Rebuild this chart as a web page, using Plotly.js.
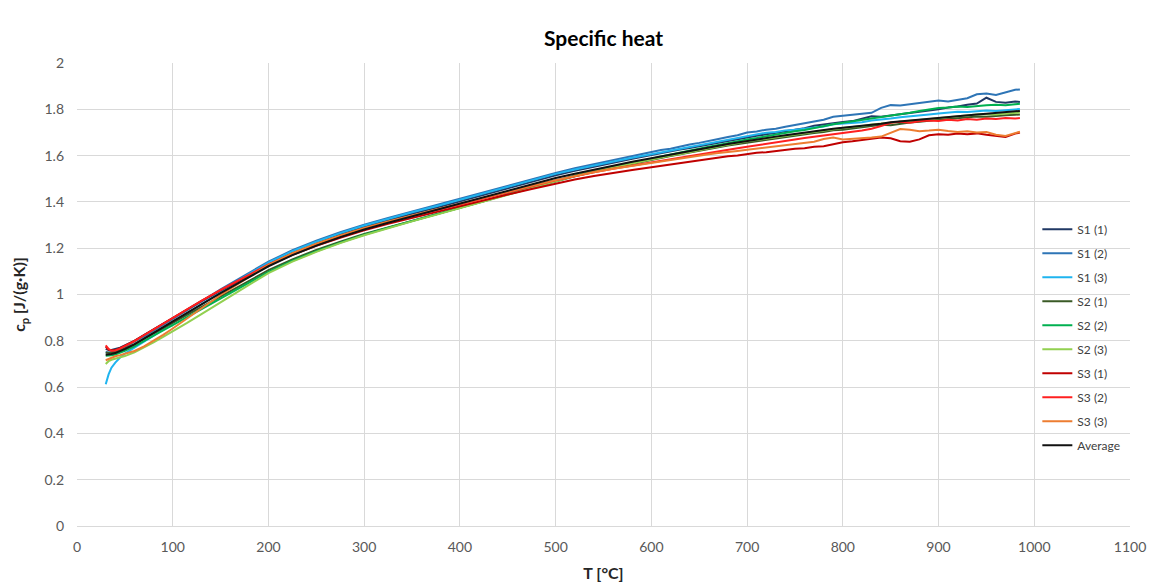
<!DOCTYPE html>
<html>
<head>
<meta charset="utf-8">
<script src="https://cdn.plot.ly/plotly-3.0.1.min.js"></script>
<style>html,body{margin:0;padding:0;background:#fff;}#chart{width:1149px;height:588px;}</style>
</head>
<body>
<div id="chart"></div>
<script>
const temps = [30,33,36,40,45,50,60,70,80,90,100,115,130,150,175,200,225,250,275,300,325,350,375,400,425,450,475,500,520,540,560,580,600,
  610,620,630,640,650,660,670,680,690,700,710,720,730,740,750,760,770,780,790,800,
  810,820,830,840,850,860,870,880,890,900,910,920,930,940,950,960,970,980,985];

const seriesNames = ["S1 (1)","S1 (2)","S1 (3)","S2 (1)","S2 (2)","S2 (3)","S3 (1)","S3 (2)","S3 (3)","Average"];

const s1_1 = [0.765,0.760,0.760,0.763,0.770,0.780,0.800,0.825,0.850,0.874,0.898,0.934,0.970,1.018,1.075,1.133,1.181,1.222,1.259,1.292,1.321,1.349,1.375,1.403,1.432,1.460,1.488,1.515,1.534,1.552,1.569,1.586,1.602,
  1.611,1.617,1.626,1.633,1.641,1.648,1.657,1.664,1.672,1.680,1.686,1.692,1.699,1.707,1.712,1.718,1.729,1.735,1.742,1.745,
  1.749,1.758,1.770,1.768,1.773,1.779,1.782,1.790,1.795,1.800,1.808,1.812,1.820,1.825,1.850,1.832,1.828,1.834,1.832];
const s1_2 = [0.752,0.750,0.752,0.757,0.765,0.774,0.795,0.819,0.844,0.869,0.893,0.931,0.970,1.022,1.082,1.142,1.191,1.232,1.269,1.302,1.331,1.359,1.385,1.413,1.442,1.470,1.498,1.525,1.545,1.563,1.580,1.597,1.615,
  1.624,1.630,1.640,1.648,1.655,1.662,1.672,1.680,1.688,1.700,1.704,1.712,1.716,1.725,1.733,1.738,1.748,1.755,1.768,1.772,
  1.775,1.779,1.785,1.806,1.818,1.816,1.822,1.826,1.832,1.838,1.834,1.842,1.848,1.865,1.868,1.862,1.874,1.884,1.886];
const s1_3 = [0.612,0.655,0.684,0.706,0.728,0.745,0.770,0.795,0.822,0.850,0.878,0.918,0.958,1.012,1.076,1.138,1.187,1.228,1.265,1.298,1.327,1.355,1.381,1.409,1.438,1.466,1.494,1.521,1.540,1.558,1.575,1.591,1.606,
  1.614,1.622,1.629,1.638,1.646,1.652,1.661,1.670,1.676,1.684,1.692,1.699,1.702,1.709,1.712,1.716,1.721,1.726,1.735,1.738,
  1.740,1.744,1.752,1.755,1.760,1.766,1.771,1.775,1.778,1.782,1.785,1.789,1.788,1.792,1.795,1.793,1.797,1.800,1.801];
const s2_1 = [0.748,0.747,0.748,0.752,0.759,0.767,0.786,0.808,0.831,0.854,0.877,0.912,0.946,0.993,1.049,1.105,1.152,1.192,1.228,1.261,1.290,1.318,1.345,1.373,1.403,1.433,1.462,1.490,1.511,1.530,1.548,1.565,1.581,
  1.590,1.598,1.605,1.614,1.620,1.628,1.636,1.644,1.650,1.658,1.664,1.669,1.676,1.682,1.686,1.693,1.698,1.702,1.709,1.712,
  1.718,1.722,1.727,1.733,1.731,1.738,1.743,1.746,1.752,1.755,1.758,1.762,1.765,1.769,1.768,1.772,1.774,1.776,1.778];
const s2_2 = [0.735,0.735,0.737,0.741,0.748,0.757,0.776,0.798,0.821,0.845,0.868,0.903,0.938,0.985,1.042,1.098,1.146,1.187,1.224,1.258,1.288,1.317,1.345,1.374,1.404,1.434,1.463,1.492,1.513,1.533,1.552,1.570,1.587,
  1.596,1.605,1.613,1.622,1.630,1.638,1.646,1.655,1.662,1.670,1.676,1.684,1.690,1.698,1.705,1.711,1.720,1.728,1.735,1.742,
  1.748,1.752,1.760,1.764,1.772,1.778,1.785,1.793,1.800,1.806,1.808,1.812,1.810,1.815,1.818,1.820,1.817,1.822,1.824];
const s2_3 = [0.700,0.712,0.718,0.722,0.728,0.734,0.750,0.770,0.793,0.817,0.840,0.877,0.915,0.967,1.030,1.092,1.142,1.184,1.222,1.256,1.287,1.316,1.344,1.373,1.403,1.433,1.462,1.491,1.512,1.531,1.549,1.566,1.582,
  1.591,1.600,1.607,1.616,1.623,1.632,1.639,1.648,1.654,1.662,1.668,1.674,1.681,1.686,1.692,1.698,1.704,1.708,1.714,1.719,
  1.722,1.728,1.734,1.738,1.742,1.746,1.752,1.755,1.760,1.763,1.767,1.770,1.775,1.778,1.780,1.778,1.782,1.785,1.786];
const s3_1 = [0.775,0.762,0.758,0.760,0.768,0.778,0.800,0.825,0.850,0.875,0.900,0.936,0.972,1.018,1.073,1.126,1.171,1.210,1.245,1.277,1.305,1.331,1.356,1.381,1.407,1.432,1.456,1.480,1.497,1.512,1.526,1.538,1.550,
  1.556,1.562,1.568,1.572,1.580,1.584,1.591,1.597,1.600,1.607,1.612,1.615,1.621,1.627,1.630,1.632,1.638,1.640,1.650,1.658,
  1.662,1.668,1.674,1.678,1.675,1.662,1.660,1.670,1.688,1.692,1.690,1.695,1.692,1.696,1.690,1.685,1.680,1.695,1.700];
const s3_2 = [0.780,0.765,0.757,0.758,0.766,0.776,0.799,0.824,0.849,0.874,0.899,0.936,0.973,1.020,1.076,1.130,1.176,1.216,1.252,1.284,1.312,1.339,1.364,1.389,1.416,1.442,1.468,1.493,1.511,1.528,1.543,1.557,1.570,
  1.578,1.584,1.591,1.600,1.607,1.613,1.620,1.627,1.632,1.638,1.645,1.650,1.657,1.664,1.670,1.676,1.682,1.688,1.692,1.698,
  1.703,1.708,1.716,1.728,1.742,1.746,1.742,1.748,1.752,1.750,1.755,1.752,1.758,1.755,1.760,1.758,1.762,1.760,1.762];
const s3_3 = [0.716,0.722,0.728,0.733,0.738,0.743,0.756,0.776,0.800,0.826,0.853,0.896,0.940,0.998,1.063,1.128,1.178,1.219,1.255,1.287,1.315,1.342,1.367,1.392,1.419,1.445,1.470,1.494,1.512,1.528,1.543,1.556,1.568,
  1.575,1.582,1.588,1.594,1.600,1.606,1.611,1.617,1.620,1.625,1.630,1.634,1.638,1.643,1.648,1.652,1.660,1.672,1.678,1.670,
  1.672,1.675,1.678,1.682,1.700,1.715,1.712,1.705,1.708,1.712,1.706,1.702,1.705,1.700,1.702,1.690,1.685,1.698,1.703];
const average = [0.740,0.741,0.743,0.747,0.755,0.764,0.785,0.809,0.834,0.859,0.884,0.921,0.958,1.006,1.064,1.122,1.170,1.211,1.248,1.281,1.310,1.338,1.364,1.391,1.420,1.448,1.476,1.503,1.522,1.540,1.557,1.573,1.589,
  1.597,1.604,1.612,1.620,1.627,1.634,1.642,1.650,1.657,1.664,1.669,1.676,1.682,1.688,1.694,1.699,1.705,1.709,1.716,1.720,
  1.724,1.730,1.735,1.738,1.744,1.748,1.752,1.757,1.760,1.765,1.768,1.772,1.774,1.778,1.781,1.784,1.788,1.792,1.793];

const xTicks = [0,100,200,300,400,500,600,700,800,900,1000,1100];
const yTicks = [0,0.2,0.4,0.6,0.8,1,1.2,1.4,1.6,1.8,2];

const allSeries = [s1_1,s1_2,s1_3,s2_1,s2_2,s2_3,s3_1,s3_2,s3_3,average];
const lineColors = ["#203864","#2e75b6","#1fb4ef","#3a5a26","#00b050","#92d050","#c00000","#ff2020","#ed7d31","#111111"];

const traces = allSeries.map((ys, i) => ({
  type: "scatter", mode: "lines", x: temps, y: ys, name: seriesNames[i],
  legendgroup: seriesNames[i],
  line: {color: lineColors[i], width: 2}
}));

const font = "Lato, 'Open Sans', sans-serif";
const layout = {
  width: 1149, height: 588,
  margin: {l: 77, r: 19, t: 63, b: 62},
  paper_bgcolor: "#ffffff", plot_bgcolor: "#ffffff",
  font: {family: font, color: "#595959", size: 14},
  title: {text: "<b>Specific heat</b>", x: 0.5, xref: "paper", y: 0.935, yref: "container", yanchor: "middle",
          font: {family: font, size: 21, color: "#000000"}},
  xaxis: {range: [0, 1100], tickvals: xTicks, showgrid: true, gridcolor: "#d9d9d9", gridwidth: 1,
          zeroline: false, showline: true, linecolor: "#d9d9d9", ticks: "", ticklabelstandoff: 8,
          tickfont: {size: 14, color: "#595959"},
          title: {text: "<b>T [°C]</b>", font: {size: 16, color: "#262626"}, standoff: 14}},
  yaxis: {range: [0, 2], tickvals: yTicks, showgrid: true, gridcolor: "#d9d9d9", gridwidth: 1,
          zeroline: false, showline: false, ticks: "", ticklabelstandoff: 12,
          tickfont: {size: 14, color: "#595959"},
          title: {text: "<b>c<sub>p</sub> [J/(g·K)]</b>", font: {size: 16, color: "#262626"}, standoff: 14}},
  legend: {x: 0.912, xanchor: "left", y: 0.672, yanchor: "top", bgcolor: "rgba(0,0,0,0)",
           font: {size: 12, color: "#404040"}, tracegroupgap: 5, traceorder: "grouped"},
  showlegend: true
};

Plotly.newPlot("chart", traces, layout, {displayModeBar: false, staticPlot: true});
</script>
</body>
</html>
